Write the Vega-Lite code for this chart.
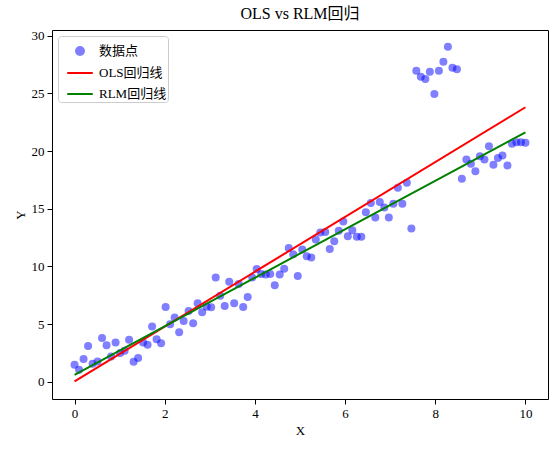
{
  "$schema": "https://vega.github.io/schema/vega-lite/v6.json",
  "width": 496,
  "height": 369,
  "autosize": {"type": "none"},
  "padding": {"left": 52, "top": 30, "right": 10, "bottom": 53},
  "background": "white",
  "title": {"text": "OLS vs RLM回归", "fontSize": 16, "fontWeight": "normal", "font": "Liberation Serif, Noto Sans CJK SC", "offset": 8},
  "config": {
    "view": {"stroke": "black", "strokeWidth": 1},
    "axis": {
      "grid": false, "domain": false,
      "labelFont": "Liberation Serif", "labelFontSize": 13, "labelColor": "black",
      "titleFont": "Liberation Serif", "titleFontSize": 13, "titleFontWeight": "normal", "titleColor": "black",
      "tickColor": "black", "tickSize": 5, "tickWidth": 1, "labelPadding": 3
    }
  },
  "datasets": {
    "pts": [
      {"x": 0.00, "y": 1.47}, {"x": 0.10, "y": 1.04}, {"x": 0.20, "y": 1.96}, {"x": 0.30, "y": 3.10}, {"x": 0.40, "y": 1.56},
      {"x": 0.51, "y": 1.75}, {"x": 0.61, "y": 3.78}, {"x": 0.71, "y": 3.17}, {"x": 0.81, "y": 2.19}, {"x": 0.91, "y": 3.40},
      {"x": 1.01, "y": 2.48}, {"x": 1.11, "y": 2.68}, {"x": 1.21, "y": 3.63}, {"x": 1.31, "y": 1.73}, {"x": 1.41, "y": 2.05},
      {"x": 1.52, "y": 3.40}, {"x": 1.62, "y": 3.20}, {"x": 1.72, "y": 4.78}, {"x": 1.82, "y": 3.69}, {"x": 1.92, "y": 3.34},
      {"x": 2.02, "y": 6.47}, {"x": 2.12, "y": 4.98}, {"x": 2.22, "y": 5.56}, {"x": 2.32, "y": 4.29}, {"x": 2.42, "y": 5.27},
      {"x": 2.53, "y": 6.14}, {"x": 2.63, "y": 5.07}, {"x": 2.73, "y": 6.80}, {"x": 2.83, "y": 6.02}, {"x": 2.93, "y": 6.51},
      {"x": 3.03, "y": 6.45}, {"x": 3.13, "y": 9.04}, {"x": 3.23, "y": 7.46}, {"x": 3.33, "y": 6.57}, {"x": 3.43, "y": 8.67},
      {"x": 3.54, "y": 6.80}, {"x": 3.64, "y": 8.47}, {"x": 3.74, "y": 6.48}, {"x": 3.84, "y": 7.35}, {"x": 3.94, "y": 9.03},
      {"x": 4.04, "y": 9.77}, {"x": 4.14, "y": 9.33}, {"x": 4.24, "y": 9.30}, {"x": 4.34, "y": 9.33}, {"x": 4.44, "y": 8.36},
      {"x": 4.55, "y": 9.30}, {"x": 4.65, "y": 9.80}, {"x": 4.75, "y": 11.60}, {"x": 4.85, "y": 11.06}, {"x": 4.95, "y": 9.16},
      {"x": 5.05, "y": 11.47}, {"x": 5.15, "y": 10.89}, {"x": 5.25, "y": 10.78}, {"x": 5.35, "y": 12.33}, {"x": 5.45, "y": 12.93},
      {"x": 5.56, "y": 12.99}, {"x": 5.66, "y": 11.50}, {"x": 5.76, "y": 12.19}, {"x": 5.86, "y": 13.08}, {"x": 5.96, "y": 13.90},
      {"x": 6.06, "y": 12.62}, {"x": 6.16, "y": 13.14}, {"x": 6.26, "y": 12.56}, {"x": 6.36, "y": 12.56}, {"x": 6.46, "y": 14.69},
      {"x": 6.57, "y": 15.50}, {"x": 6.67, "y": 14.23}, {"x": 6.77, "y": 15.58}, {"x": 6.87, "y": 15.10}, {"x": 6.97, "y": 14.23},
      {"x": 7.07, "y": 15.44}, {"x": 7.17, "y": 16.82}, {"x": 7.27, "y": 15.44}, {"x": 7.37, "y": 17.26}, {"x": 7.47, "y": 13.28},
      {"x": 7.58, "y": 26.97}, {"x": 7.68, "y": 26.45}, {"x": 7.78, "y": 26.25}, {"x": 7.88, "y": 26.88}, {"x": 7.98, "y": 24.95},
      {"x": 8.08, "y": 26.97}, {"x": 8.18, "y": 27.74}, {"x": 8.28, "y": 29.04}, {"x": 8.38, "y": 27.23}, {"x": 8.48, "y": 27.10},
      {"x": 8.59, "y": 17.60}, {"x": 8.69, "y": 19.27}, {"x": 8.79, "y": 18.90}, {"x": 8.89, "y": 18.24}, {"x": 8.99, "y": 19.56},
      {"x": 9.09, "y": 19.27}, {"x": 9.19, "y": 20.42}, {"x": 9.29, "y": 18.81}, {"x": 9.39, "y": 19.39}, {"x": 9.49, "y": 19.62},
      {"x": 9.60, "y": 18.76}, {"x": 9.70, "y": 20.63}, {"x": 9.80, "y": 20.77}, {"x": 9.90, "y": 20.77}, {"x": 10.00, "y": 20.72}
    ],
    "fits": [
      {"series": "OLS回归线", "x": 0, "y": 0.03},
      {"series": "OLS回归线", "x": 10, "y": 23.8},
      {"series": "RLM回归线", "x": 0, "y": 0.6},
      {"series": "RLM回归线", "x": 10, "y": 21.63}
    ]
  },
  "encoding": {
    "x": {"field": "x", "type": "quantitative", "title": "X",
      "scale": {"domain": [-0.5, 10.5], "nice": false, "zero": false},
      "axis": {"values": [0, 2, 4, 6, 8, 10]}},
    "y": {"field": "y", "type": "quantitative", "title": "Y",
      "scale": {"domain": [-1.5, 30.5], "nice": false, "zero": false},
      "axis": {"values": [0, 5, 10, 15, 20, 25, 30]}},
    "color": {"field": "series", "type": "nominal",
      "scale": {"domain": ["数据点", "OLS回归线", "RLM回归线"], "range": ["blue", "red", "green"]},
      "legend": {
        "title": null, "orient": "top-left", "offset": 6,
        "labelFont": "Liberation Serif, Noto Sans CJK SC", "labelFontSize": 13, "labelColor": "black",
        "symbolSize": 400, "symbolType": "stroke", "symbolStrokeWidth": 2, "symbolOffset": 7,
        "rowPadding": 0, "labelOffset": 5,
        "padding": 1, "strokeColor": "#cccccc", "fillColor": "rgba(255,255,255,0.8)", "cornerRadius": 3,
        "encode": {
          "symbols": {"update": {
            "shape": {"signal": "datum.value === '数据点' ? 'circle' : 'stroke'"},
            "size": {"signal": "datum.value === '数据点' ? 64 : 650"},
            "fill": {"signal": "datum.value === '数据点' ? 'blue' : 'transparent'"},
            "stroke": {"signal": "datum.value === '数据点' ? 'transparent' : (datum.value === 'OLS回归线' ? 'red' : 'green')"},
            "opacity": {"signal": "datum.value === '数据点' ? 0.5 : 1"}
          }}
        }
      }}
  },
  "layer": [
    {
      "data": {"name": "pts"},
      "transform": [{"calculate": "'数据点'", "as": "series"}],
      "mark": {"type": "point", "filled": true, "size": 64, "opacity": 0.5, "shape": "circle"}
    },
    {
      "data": {"name": "fits"},
      "mark": {"type": "line", "strokeWidth": 2}
    }
  ]
}
